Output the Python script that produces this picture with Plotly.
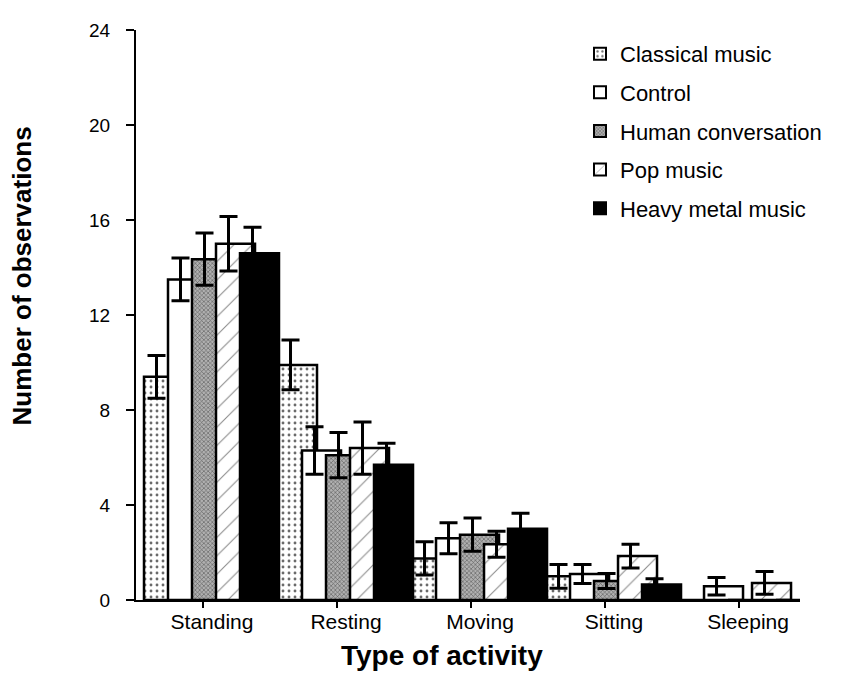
import plotly.graph_objects as go

categories = ["Standing", "Resting", "Moving", "Sitting", "Sleeping"]
series_names = ["Classical music", "Control", "Human conversation", "Pop music", "Heavy metal music"]

classical = [9.4, 9.9, 1.75, 1.0, 0.0]
classical_err = [0.9, 1.05, 0.7, 0.5, 0.0]
control = [13.5, 6.3, 2.6, 1.1, 0.58]
control_err = [0.9, 1.0, 0.65, 0.4, 0.37]
human = [14.35, 6.1, 2.75, 0.8, 0.0]
human_err = [1.1, 0.95, 0.7, 0.32, 0.0]
pop = [15.0, 6.4, 2.35, 1.85, 0.72]
pop_err = [1.15, 1.1, 0.55, 0.5, 0.48]
heavy = [14.6, 5.7, 3.0, 0.65, 0.0]
heavy_err = [1.1, 0.9, 0.65, 0.25, 0.0]

y_ticks = [0, 4, 8, 12, 16, 20, 24]

values = [classical, control, human, pop, heavy]
errors = [classical_err, control_err, human_err, pop_err, heavy_err]

# styles
patterns = [
    dict(shape=".", bgcolor="white", fgcolor="#6a6a6a", size=6, solidity=0.18, fillmode="replace"),
    None,
    dict(shape="x", bgcolor="#b0b0b0", fgcolor="#5a5a5a", size=3, solidity=0.35, fillmode="replace"),
    dict(shape="/", bgcolor="white", fgcolor="#8a8a8a", size=13, solidity=0.08, fillmode="replace"),
    None,
]
colors = ["white", "white", "#b0b0b0", "white", "black"]

FONT = "Arial, Liberation Sans, Helvetica, sans-serif"
W, H = 842, 677
OFF = 8  # page body margin
PL, PT, PW, PH = 136, 24, 664, 576   # plot area in screen pixels
L, T = PL - OFF, PT - OFF
R, B = W - L - PW, H - T - PH
X0, X1 = -0.5, 4.455
PX = PW / (X1 - X0)  # pixels per category unit
BAR_STEP = 24.0 / PX
BAR_W = 39.0 / PX
FIRST_CENTER = -39.5 / PX
ERR_SHIFT = -7.0 / PX


def px_x(sx):
    return (sx - PL) / PW


def px_y(sy):
    return (PT + PH - sy) / PH


fig = go.Figure()
n = len(categories)
for k, name in enumerate(series_names):
    xs = [i + FIRST_CENTER + k * BAR_STEP for i in range(n)]
    marker = dict(color=colors[k], line=dict(color="black", width=2.5))
    if patterns[k] is not None:
        marker["pattern"] = patterns[k]
    fig.add_trace(go.Bar(
        x=xs, y=values[k], width=[BAR_W] * n, name=name, marker=marker,
        legendgroup=name, showlegend=True,
    ))

for k, name in enumerate(series_names):
    xs, ys, es = [], [], []
    for i in range(n):
        if errors[k][i] > 0:
            xs.append(i + FIRST_CENTER + k * BAR_STEP + ERR_SHIFT)
            ys.append(values[k][i])
            es.append(errors[k][i])
    fig.add_trace(go.Scatter(
        x=xs, y=ys, mode="markers", marker=dict(size=1, color="rgba(0,0,0,0)"),
        error_y=dict(type="data", array=es, visible=True, color="black", thickness=3, width=9),
        showlegend=False, hoverinfo="skip",
    ))

fig.update_layout(
    width=W, height=H,
    margin=dict(l=L, r=R, t=T, b=B),
    paper_bgcolor="white", plot_bgcolor="white",
    barmode="overlay",
    font=dict(family=FONT, color="black", size=18),
    showlegend=True,
    legend=dict(
        x=px_x(580), y=px_y(27), xanchor="left", yanchor="top",
        font=dict(family=FONT, size=22, color="black"),
        bgcolor="rgba(0,0,0,0)", tracegroupgap=7, itemsizing="constant",
    ),
    xaxis=dict(
        range=[X0, X1], tickvals=list(range(n)), ticktext=categories,
        showline=True, linecolor="black", linewidth=2,
        ticks="outside", ticklen=6, tickwidth=2, tickcolor="black",
        showgrid=False, zeroline=False,
        tickfont=dict(family=FONT, size=21, color="black"),
        ticklabelshift=9, ticklabelstandoff=-4,
    ),
    yaxis=dict(
        range=[0, 24], tickvals=y_ticks,
        showline=True, linecolor="black", linewidth=2,
        ticks="outside", ticklen=8, tickwidth=2, tickcolor="black",
        showgrid=False, zeroline=False,
        tickfont=dict(family=FONT, size=19, color="black"),
        ticklabelstandoff=12,
    ),
    annotations=[
        dict(text="<b>Number of observations</b>", textangle=-90,
             xref="paper", yref="paper", x=px_x(22), y=px_y(273),
             xanchor="center", yanchor="middle", showarrow=False,
             font=dict(family=FONT, size=26, color="black")),
        dict(text="<b>Type of activity</b>",
             xref="paper", yref="paper", x=px_x(442), y=px_y(656),
             xanchor="center", yanchor="middle", showarrow=False,
             font=dict(family=FONT, size=28, color="black")),
    ],
)

fig.write_html("out.html")
